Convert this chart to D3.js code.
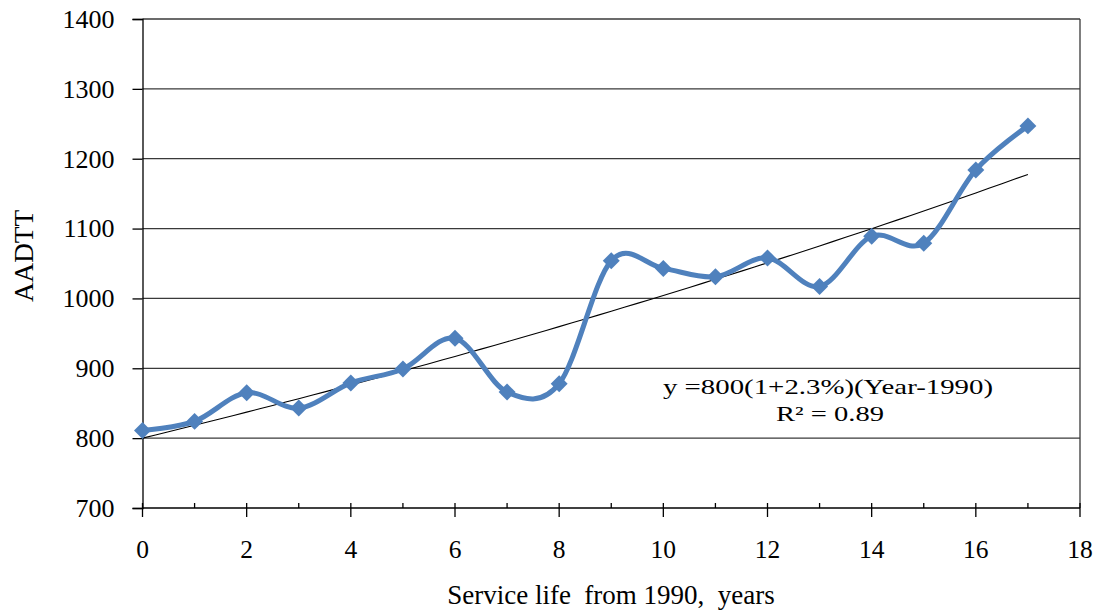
<!DOCTYPE html>
<html>
<head>
<meta charset="utf-8">
<script src="https://cdn.jsdelivr.net/npm/d3@7/dist/d3.min.js"></script>
<style>
  html, body { margin: 0; padding: 0; background: #fff; }
  svg { display: block; }
  text { font-family: "Liberation Serif", "Times New Roman", serif; fill: #000; }
</style>
</head>
<body>
<svg id="chart" width="1101" height="615"></svg>
<script>
// Service life (years after 1990) and observed AADTT
const years = [0, 1, 2, 3, 4, 5, 6, 7, 8, 9, 10, 11, 12, 13, 14, 15, 16, 17];
const aadtt = [811, 824, 865, 843, 879, 899, 943, 866, 878, 1054, 1043, 1031, 1058, 1017, 1089, 1079, 1184, 1247];

// Tick values for both axes
const xTicks = [0, 2, 4, 6, 8, 10, 12, 14, 16, 18];
const xMinorTicks = [1, 3, 5, 7, 9, 11, 13, 15, 17];
const yTicks = [700, 800, 900, 1000, 1100, 1200, 1300, 1400];

// Exponential growth trend: y = base * (1 + rate)^t
const trendBase = [800];
const trendRate = [0.023];
const trendLabel = ["y =800(1+2.3%)(Year-1990)", "R² = 0.89"];

const svg = d3.select("#chart");
const plotLeft = 142.5, plotRight = 1080, plotTop = 19, plotBottom = 508;

const x = d3.scaleLinear().domain([0, 18]).range([plotLeft, plotRight]);
const y = d3.scaleLinear().domain([700, 1400]).range([plotBottom, plotTop]);

// Horizontal gridlines
svg.append("g")
  .selectAll("line")
  .data(yTicks.filter(v => v > 700))
  .join("line")
  .attr("x1", plotLeft).attr("x2", plotRight)
  .attr("y1", d => y(d)).attr("y2", d => y(d))
  .attr("stroke", "#3a3a3a").attr("stroke-width", 1.3);

// Right border of the plot area
svg.append("line")
  .attr("x1", plotRight).attr("x2", plotRight).attr("y1", plotTop).attr("y2", plotBottom)
  .attr("stroke", "#3a3a3a").attr("stroke-width", 1.3);

// Y axis
const yAxis = svg.append("g")
  .attr("transform", `translate(${plotLeft},0)`)
  .call(d3.axisLeft(y).tickValues(yTicks).tickSize(10).tickPadding(18).tickFormat(d3.format("d")));
yAxis.select(".domain").attr("stroke", "#000").attr("stroke-width", 1.3);
yAxis.selectAll(".tick line").attr("stroke", "#000").attr("stroke-width", 1.3);
yAxis.selectAll("text")
  .style("font-family", "'Liberation Serif', serif")
  .style("font-size", "26px")
  .attr("fill", "#000");

// X axis: major ticks crossing the axis, minor ticks inside only
const xAxisG = svg.append("g").attr("transform", `translate(0,${plotBottom})`);
xAxisG.append("line")
  .attr("x1", plotLeft).attr("x2", plotRight).attr("y1", 0).attr("y2", 0)
  .attr("stroke", "#000").attr("stroke-width", 1.3);
xAxisG.selectAll("line.major")
  .data(xTicks)
  .join("line")
  .attr("class", "major")
  .attr("x1", d => x(d)).attr("x2", d => x(d))
  .attr("y1", -5).attr("y2", 9)
  .attr("stroke", "#000").attr("stroke-width", 1.3);
xAxisG.selectAll("line.minor")
  .data(xMinorTicks)
  .join("line")
  .attr("class", "minor")
  .attr("x1", d => x(d)).attr("x2", d => x(d))
  .attr("y1", -5).attr("y2", 0)
  .attr("stroke", "#000").attr("stroke-width", 1.3);
xAxisG.selectAll("text")
  .data(xTicks)
  .join("text")
  .attr("x", d => x(d))
  .attr("y", 50)
  .attr("text-anchor", "middle")
  .style("font-size", "25.5px")
  .text(d => d);

// Trendline
const trendXs = d3.range(0, 17.001, 0.25);
const trend = d3.line()
  .x(d => x(d))
  .y(d => y(trendBase[0] * Math.pow(1 + trendRate[0], d)));
svg.append("path")
  .datum(trendXs)
  .attr("d", trend)
  .attr("fill", "none")
  .attr("stroke", "#000")
  .attr("stroke-width", 1.1);

// Smoothed data series
const series = d3.line()
  .x((d, i) => x(years[i]))
  .y(d => y(d))
  .curve(d3.curveCardinal.tension(0));
svg.append("path")
  .datum(aadtt)
  .attr("d", series)
  .attr("fill", "none")
  .attr("stroke", "#4F81BD")
  .attr("stroke-width", 5)
  .attr("stroke-linejoin", "round");

// Diamond markers
svg.append("g")
  .selectAll("rect")
  .data(aadtt)
  .join("rect")
  .attr("x", -6).attr("y", -6)
  .attr("width", 12).attr("height", 12)
  .attr("transform", (d, i) => `translate(${x(years[i])},${y(d)}) rotate(45)`)
  .attr("fill", "#4F81BD");

// Trend equation (a widened text box)
svg.append("text")
  .attr("x", 828).attr("y", 394)
  .attr("text-anchor", "middle")
  .attr("textLength", 330)
  .attr("lengthAdjust", "spacingAndGlyphs")
  .style("font-size", "22px")
  .text(trendLabel[0]);
svg.append("text")
  .attr("x", 830).attr("y", 421)
  .attr("text-anchor", "middle")
  .attr("textLength", 108)
  .attr("lengthAdjust", "spacingAndGlyphs")
  .style("font-size", "22px")
  .text(trendLabel[1]);

// Axis titles
svg.append("text")
  .attr("x", 611).attr("y", 604)
  .attr("text-anchor", "middle")
  .attr("xml:space", "preserve")
  .style("white-space", "pre")
  .style("font-size", "27px")
  .text("Service life  from 1990,  years");

svg.append("text")
  .attr("transform", "translate(33,256) rotate(-90)")
  .attr("text-anchor", "middle")
  .attr("textLength", 92)
  .attr("lengthAdjust", "spacingAndGlyphs")
  .style("font-size", "28px")
  .text("AADTT");
</script>
</body>
</html>
